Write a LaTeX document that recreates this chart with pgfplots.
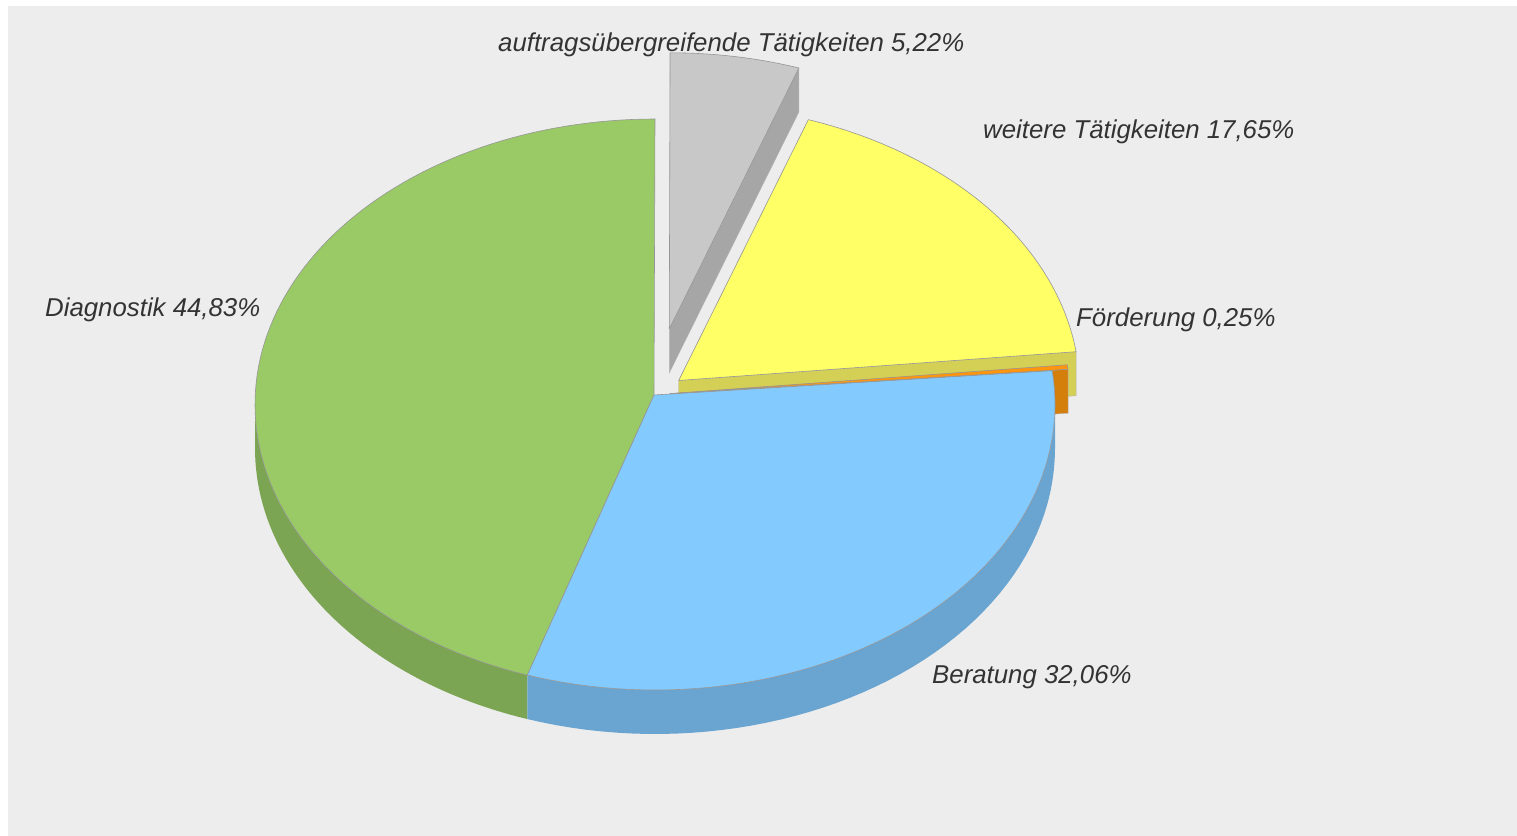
\documentclass[border=0pt]{standalone}
\usepackage{fontspec}
\setmainfont{Liberation Sans}
\usepackage{pgfplots}
\pgfplotsset{compat=1.18}
\usepackage{pgfplotstable}

\definecolor{bg}{RGB}{237,237,237}
\definecolor{gtop}{RGB}{153,202,102}
\definecolor{gside}{RGB}{124,165,83}
\definecolor{btop}{RGB}{131,202,255}
\definecolor{bside}{RGB}{106,164,208}
\definecolor{otop}{RGB}{255,149,14}
\definecolor{oside}{RGB}{212,126,12}
\definecolor{ytop}{RGB}{255,255,102}
\definecolor{yside}{RGB}{212,208,85}
\definecolor{atop}{RGB}{200,200,200}
\definecolor{aside}{RGB}{166,166,166}
\definecolor{edgec}{RGB}{150,150,150}
\definecolor{txt}{RGB}{51,51,51}

\pgfplotstableread{
share
44.83
32.06
0.25
17.65
5.22
}\piedata

\def\cx{655}\def\cy{430.5}\def\rx{400}\def\ry{285.5}
\def\px{654}\def\py{440}\def\D{44}

% top face: #1 start angle, #2 end angle, #3 dx, #4 dy, #5 colour
\newcommand\topface[5]{%
 \addplot[fill=#5, draw=edgec, line width=0.6pt, line join=round, domain=0:3, samples=301, variable=\t]
 ({\px+#3+(\cx-\px+\rx*cos(#1+(#2-#1)*min(max(\t-1,0),1)))*(min(\t,1)-max(\t-2,0))},
  {\py+#4+(\cy-\py+\ry*sin(#1+(#2-#1)*min(max(\t-1,0),1)))*(min(\t,1)-max(\t-2,0))});
}
% outer side wall: #1 start, #2 end, #3 dx, #4 dy, #5 colour
\newcommand\sidewall[5]{%
 \addplot[fill=#5, draw=none, domain=0:3, samples=151, variable=\t]
 ({\cx+#3+\rx*cos(#1+(#2-#1)*min(\t,1)-(#2-#1)*max(\t-2,0))},
  {\cy+#4+\ry*sin(#1+(#2-#1)*min(\t,1)-(#2-#1)*max(\t-2,0))-\D*min(max(\t-1,0),1)});
}
% radial cut face: #1 angle, #2 dx, #3 dy, #4 colour
\newcommand\cutface[4]{%
 \addplot[fill=#4, draw=edgec!70, line width=0.4pt, samples at={0,1,2,3,4}, variable=\t]
 ({\px+#2+(\cx-\px+\rx*cos(#1))*(min(\t,1)-min(max(\t-2,0),1))},
  {\py+#3+(\cy-\py+\ry*sin(#1))*(min(\t,1)-min(max(\t-2,0),1))-\D*(min(max(\t-1,0),1)-max(\t-3,0))});
}

\begin{document}
\begin{tikzpicture}
\pgfplotstablegetelem{0}{share}\of\piedata\let\sA\pgfplotsretval
\pgfplotstablegetelem{1}{share}\of\piedata\let\sB\pgfplotsretval
\pgfplotstablegetelem{2}{share}\of\piedata\let\sC\pgfplotsretval
\pgfplotstablegetelem{3}{share}\of\piedata\let\sD\pgfplotsretval
\pgfplotstablegetelem{4}{share}\of\piedata\let\sE\pgfplotsretval
\pgfmathsetmacro\aO{90}
\pgfmathsetmacro\aA{\aO+3.6*\sA}
\pgfmathsetmacro\aB{\aA+3.6*\sB}
\pgfmathsetmacro\aC{\aB+3.6*\sC}
\pgfmathsetmacro\aD{\aC+3.6*\sD}
\pgfmathsetmacro\aE{\aD+3.6*\sE}
% explode offsets
\pgfmathsetmacro\mE{(\aD+\aE)/2}
\pgfmathsetmacro\dxE{0.235*\rx*cos(\mE)}
\pgfmathsetmacro\dyE{0.235*\ry*sin(\mE)}
\pgfmathsetmacro\mD{(\aC+\aD)/2}
\pgfmathsetmacro\dxD{0.08*\rx*cos(\mD)}
\pgfmathsetmacro\dyD{0.08*\ry*sin(\mD)}
\pgfmathsetmacro\mC{(\aB+\aC)/2}
\pgfmathsetmacro\dxC{0.04*\rx*cos(\mC)}
\pgfmathsetmacro\dyC{0.04*\ry*sin(\mC)}
\begin{axis}[width=1517pt,height=835pt,scale only axis,
  xmin=0,xmax=1517,ymin=0,ymax=835,hide axis,clip=false]
\fill[white] (axis cs:0,0) rectangle (axis cs:1517,835);
\fill[bg] (axis cs:8,-3) rectangle (axis cs:1520,829);
% auftragsuebergreifende (exploded, back)
\cutface{\aD}{\dxE}{\dyE}{aside}
\topface{\aD}{\aE}{\dxE}{\dyE}{atop}
% weitere
\cutface{\aC}{\dxD}{\dyD}{yside}
\topface{\aC}{\aD}{\dxD}{\dyD}{ytop}
% Foerderung
\cutface{\aB}{\dxC}{\dyC}{oside}
\topface{\aB}{\aC}{\dxC}{\dyC}{otop}
% front walls
\sidewall{180}{\aA}{0}{0}{gside}
\sidewall{\aA}{360}{0}{0}{bside}
% tops
\topface{\aO}{\aA}{0}{0}{gtop}
\topface{\aA}{\aB}{0}{0}{btop}
% labels
\tikzset{lab/.style={anchor=west, inner sep=0pt, text=txt, font=\fontsize{25.8}{30}\selectfont\itshape}}
\node[lab] at (axis cs:498,790) {auftragsübergreifende Tätigkeiten 5,22\%};
\node[lab] at (axis cs:983,703) {weitere Tätigkeiten 17,65\%};
\node[lab] at (axis cs:1076,515) {Förderung 0,25\%};
\node[lab] at (axis cs:45,525) {Diagnostik 44,83\%};
\node[lab] at (axis cs:932,158) {Beratung 32,06\%};
\end{axis}
\pgfresetboundingbox
\useasboundingbox (current axis.south west) rectangle (current axis.north east);
\end{tikzpicture}
\end{document}
